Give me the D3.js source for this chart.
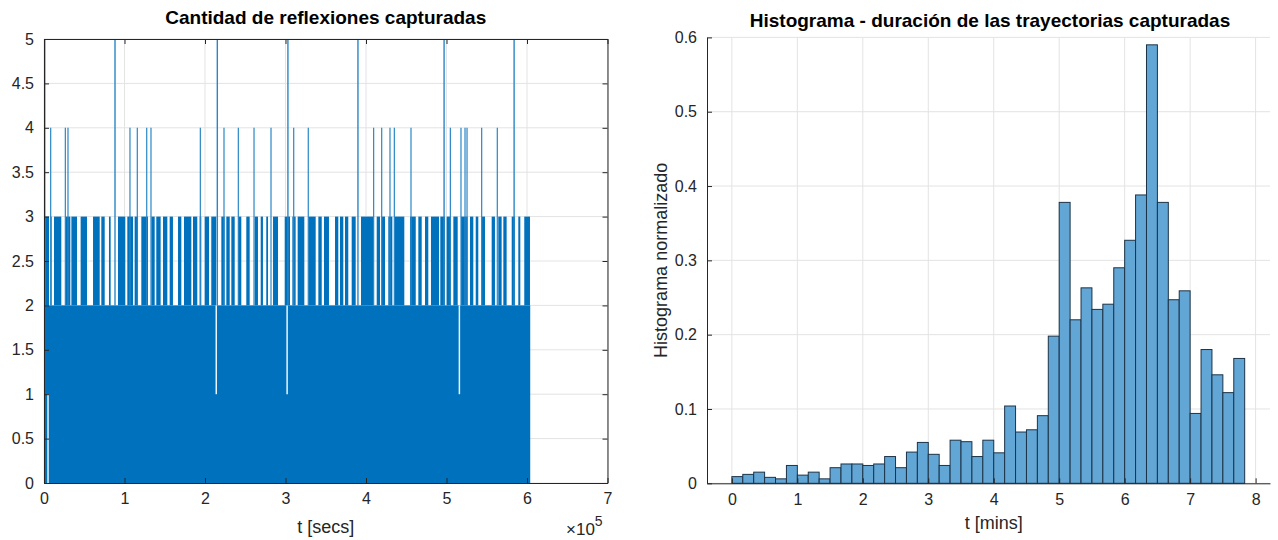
<!DOCTYPE html>
<html><head><meta charset="utf-8">
<script src="https://cdn.jsdelivr.net/npm/d3@7"></script>
<style>body{margin:0;background:#fff}svg{display:block}text{font-family:"Liberation Sans",Arial,sans-serif}</style>
</head><body>
<svg id="c" width="1278" height="540"></svg>
<script>
// ---------- Left chart data (time in units of 1e5 s) ----------
const leftTitle = "Cantidad de reflexiones capturadas";
const leftXTicks = [0,1,2,3,4,5,6,7];
const leftYTicks = [0,0.5,1,1.5,2,2.5,3,3.5,4,4.5,5];
const seriesStart = 0.0, seriesEnd = 6.04;
const baseLevel = 2;
// runs where the signal keeps reaching 3 reflections
const level3Runs = [
 [0.008,0.062],[0.083,0.09],[0.124,0.215],[0.265,0.327],[0.34,0.41],[0.455,0.534],[0.609,0.692],[0.712,0.754],
 [0.807,0.828],[0.919,1.01],[1.035,1.106],[1.126,1.168],[1.209,1.292],[1.333,1.375],[1.395,1.449],[1.478,1.532],
 [1.561,1.602],[1.665,1.706],[1.739,1.83],[1.851,1.904],[1.934,1.954],[1.996,2.05],[2.078,2.14],[2.203,2.244],
 [2.265,2.307],[2.327,2.369],[2.41,2.451],[2.513,2.555],[2.617,2.658],[2.692,2.72],[2.761,2.783],[2.845,2.907],
 [2.99,3.056],[3.085,3.126],[3.151,3.234],[3.284,3.375],[3.408,3.45],[3.478,3.54],[3.615,3.656],[3.677,3.718],
 [3.739,3.78],[3.822,3.872],[3.938,4.091],[4.133,4.174],[4.195,4.236],[4.277,4.327],[4.352,4.476],[4.547,4.618],
 [4.65,4.692],[4.733,4.774],[4.807,4.907],[4.923,4.981],[5.002,5.056],[5.085,5.139],[5.18,5.263],[5.292,5.333],
 [5.363,5.395],[5.437,5.478],[5.561,5.602],[5.643,5.685],[5.706,5.747],[5.81,5.851],[5.892,5.917],[5.966,6.037]
];
const spikes4 = [0.083,0.265,0.298,1.068,1.159,1.276,1.329,1.942,2.236,2.414,2.609,2.82,3.102,3.283,
 4.095,4.195,4.298,4.352,4.559,5.048,5.18,5.23,5.255,5.437,5.631];
const spikes5 = [0.01,0.882,2.153,3.03,3.90,4.97,5.84];
// short drops of the signal (time, low, high)
const drops = [[0.05,0,1],[2.14,1,2],[3.02,1,2],[5.16,1,2]];

// ---------- Right chart data ----------
const rightTitle = "Histograma - duración de las trayectorias capturadas";
const rightXTicks = [0,1,2,3,4,5,6,7,8];
const rightYTicks = [0,0.1,0.2,0.3,0.4,0.5,0.6];
const binWidth = 1/6; // minutes
const histValues = [0.009,0.012,0.015,0.008,0.006,0.024,0.011,0.015,0.006,0.021,0.026,0.026,0.024,0.026,0.036,0.021,
 0.042,0.055,0.039,0.024,0.058,0.056,0.036,0.058,0.041,0.104,0.069,0.072,0.091,0.198,0.378,0.22,0.263,0.234,0.241,
 0.29,0.327,0.388,0.59,0.378,0.247,0.259,0.094,0.18,0.146,0.122,0.168];

const svg = d3.select("#c");
const axisCol = "#262626", gridCol = "#e3e3e3";
const blue = "#0072BD";

// ================= LEFT =================
{
 const x = d3.scaleLinear().domain([0,7]).range([44,607.5]);
 const y = d3.scaleLinear().domain([0,5]).range([483,39]);
 const g = svg.append("g");
 g.selectAll(".gx").data(leftXTicks).join("line").attr("x1",d=>x(d)).attr("x2",d=>x(d)).attr("y1",y(0)).attr("y2",y(5)).attr("stroke",gridCol);
 g.selectAll(".gy").data(leftYTicks).join("line").attr("y1",d=>y(d)).attr("y2",d=>y(d)).attr("x1",x(0)).attr("x2",x(7)).attr("stroke",gridCol);
 g.append("rect").attr("x",x(seriesStart)).attr("width",x(seriesEnd)-x(seriesStart)).attr("y",y(baseLevel)).attr("height",y(0)-y(baseLevel)).attr("fill",blue);
 g.selectAll(".r3").data(level3Runs).join("rect").attr("x",d=>x(d[0])).attr("width",d=>Math.max(1,x(d[1])-x(d[0])))
  .attr("y",y(3)).attr("height",y(baseLevel)-y(3)).attr("fill",blue);
 g.selectAll(".s4").data(spikes4).join("line").attr("x1",d=>x(d)).attr("x2",d=>x(d)).attr("y1",y(baseLevel)).attr("y2",y(4))
  .attr("stroke","#2a86c6").attr("stroke-width",1.2);
 g.selectAll(".s5").data(spikes5).join("line").attr("x1",d=>x(d)).attr("x2",d=>x(d)).attr("y1",y(baseLevel)).attr("y2",y(5))
  .attr("stroke","#2a86c6").attr("stroke-width",1.4);
 g.selectAll(".dr").data(drops).join("line").attr("x1",d=>x(d[0])).attr("x2",d=>x(d[0])).attr("y1",d=>y(d[1])).attr("y2",d=>y(d[2]))
  .attr("stroke","#eaf4fb").attr("stroke-width",1.5);
 const tl = 5;
 g.append("g").attr("transform",`translate(0,${y(0)})`).call(d3.axisBottom(x).tickValues(leftXTicks).tickSizeInner(-tl).tickSizeOuter(0).tickPadding(10).tickFormat(d3.format("d")));
 g.append("g").attr("transform",`translate(0,${y(5)})`).call(d3.axisTop(x).tickValues(leftXTicks).tickSizeInner(-tl).tickSizeOuter(0).tickFormat(""));
 g.append("g").attr("transform",`translate(${x(0)},0)`).call(d3.axisLeft(y).tickValues(leftYTicks).tickSizeInner(-tl).tickSizeOuter(0).tickPadding(10).tickFormat(d=>d3.format("")(d)));
 g.append("g").attr("transform",`translate(${x(7)},0)`).call(d3.axisRight(y).tickValues(leftYTicks).tickSizeInner(-tl).tickSizeOuter(0).tickFormat(""));
 g.selectAll(".domain").attr("stroke",axisCol);
 g.selectAll(".tick line").attr("stroke",axisCol);
 g.selectAll(".tick text").attr("font-size",16).attr("fill",axisCol).attr("font-family","Liberation Sans, Arial, sans-serif");
 g.append("text").attr("x",(x(0)+x(7))/2).attr("y",24).attr("text-anchor","middle").attr("font-size",19).attr("font-weight","bold").attr("fill","#000").text(leftTitle);
 g.append("text").attr("x",(x(0)+x(7))/2).attr("y",533).attr("text-anchor","middle").attr("font-size",18).attr("fill",axisCol).text("t [secs]");
 const e = g.append("text").attr("x",566).attr("y",535).attr("font-size",17).attr("fill",axisCol);
 e.append("tspan").text("×10");
 e.append("tspan").attr("dy",-9).attr("font-size",14).text("5");
}

// ================= RIGHT =================
{
 const x = d3.scaleLinear().domain([-0.38,8.22]).range([707,1270]);
 const y = d3.scaleLinear().domain([0,0.6]).range([483.3,37.4]);
 const g = svg.append("g");
 g.selectAll(".gx").data(rightXTicks).join("line").attr("x1",d=>x(d)).attr("x2",d=>x(d)).attr("y1",y(0)).attr("y2",y(0.6)).attr("stroke",gridCol);
 g.selectAll(".gy").data(rightYTicks).join("line").attr("y1",d=>y(d)).attr("y2",d=>y(d)).attr("x1",x(-0.38)).attr("x2",x(8.22)).attr("stroke",gridCol);
 g.selectAll(".bar").data(histValues).join("rect")
  .attr("x",(d,i)=>x(i*binWidth)).attr("width",(d,i)=>x((i+1)*binWidth)-x(i*binWidth))
  .attr("y",d=>y(d)).attr("height",d=>y(0)-y(d))
  .attr("fill","#62a6d6").attr("stroke","#1c3347").attr("stroke-width",1);
 const tl = 5;
 g.append("g").attr("transform",`translate(0,${y(0)})`).call(d3.axisBottom(x).tickValues(rightXTicks).tickSizeInner(-tl).tickSizeOuter(0).tickPadding(10).tickFormat(d3.format("d")));
 g.append("g").attr("transform",`translate(${x(-0.38)},0)`).call(d3.axisLeft(y).tickValues(rightYTicks).tickSizeInner(-tl).tickSizeOuter(0).tickPadding(10).tickFormat(d=>d3.format("")(+d.toFixed(1))));
 g.selectAll(".domain").attr("stroke",axisCol);
 g.selectAll(".tick line").attr("stroke",axisCol);
 g.selectAll(".tick text").attr("font-size",16).attr("fill",axisCol).attr("font-family","Liberation Sans, Arial, sans-serif");
 g.append("text").attr("x",990).attr("y",27).attr("text-anchor","middle").attr("font-size",19).attr("font-weight","bold").attr("fill","#000").text(rightTitle);
 g.append("text").attr("x",x(4)).attr("y",529).attr("text-anchor","middle").attr("font-size",18).attr("fill",axisCol).text("t [mins]");
 g.append("text").attr("transform",`translate(667,${(y(0)+y(0.6))/2}) rotate(-90)`).attr("text-anchor","middle").attr("font-size",18).attr("fill",axisCol).text("Histograma normalizado");
}
</script>
</body></html>
